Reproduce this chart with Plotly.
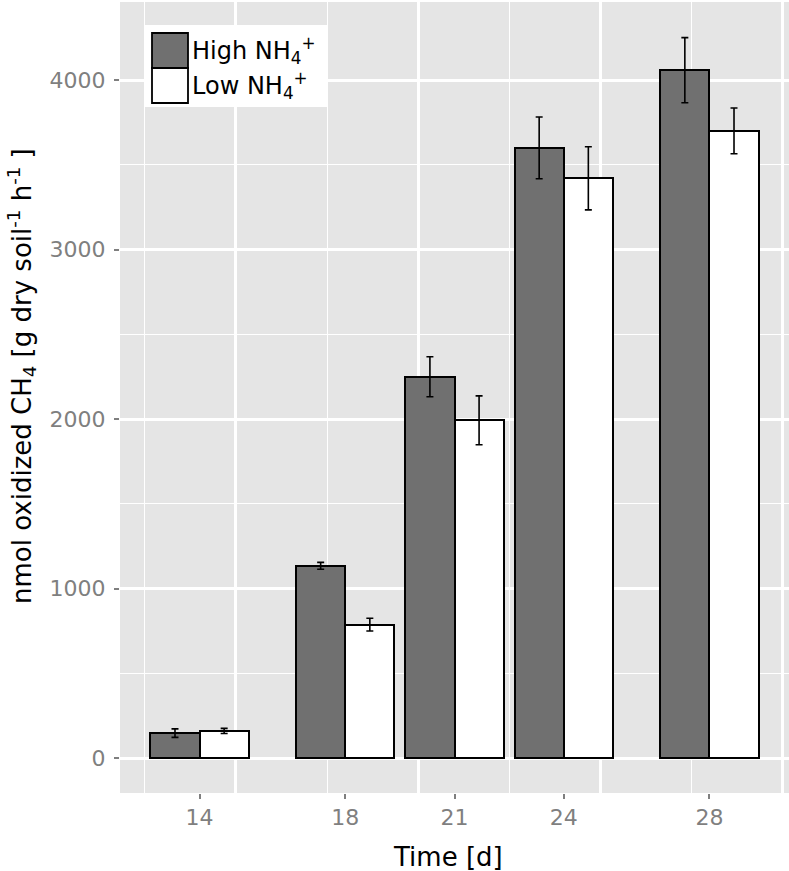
"""Methane oxidation under high vs. low ammonium, ggplot-like bar chart."""

import plotly.graph_objects as go

# data
TIME_DAYS = [14, 18, 21, 24, 28]
HIGH_NH4 = [148, 1135, 2250, 3600, 4058]
HIGH_NH4_ERR = [25, 20, 118, 182, 192]
LOW_NH4 = [161, 788, 1993, 3420, 3700]
LOW_NH4_ERR = [15, 38, 144, 186, 135]

BAR_WIDTH = 1.35
DARK = "#707070"
PANEL_BG = "#e5e5e5"
TICK_GREY = "#7f7f7f"
FONT = "DejaVu Sans, Verdana, sans-serif"

WIDTH, HEIGHT = 789, 871
MARGIN = dict(l=120, r=0, t=2, b=78, autoexpand=False)


def px_to_paper(px, py):
    """Convert window pixel coords to paper coords of the plot area."""
    w = WIDTH - MARGIN["l"] - MARGIN["r"]
    h = HEIGHT - MARGIN["t"] - MARGIN["b"]
    return (px - MARGIN["l"]) / w, 1 - (py - MARGIN["t"]) / h


def bar_trace(values, errors, color, offset, name):
    return go.Bar(
        x=TIME_DAYS,
        y=values,
        width=BAR_WIDTH,
        offset=offset,
        name=name,
        marker=dict(color=color, line=dict(color="black", width=2)),
        error_y=dict(
            type="data", array=errors, color="black", thickness=1.6, width=3.5
        ),
        showlegend=False,
    )


fig = go.Figure()
fig.add_trace(bar_trace(HIGH_NH4, HIGH_NH4_ERR, DARK, -BAR_WIDTH, "High NH4+"))
fig.add_trace(bar_trace(LOW_NH4, LOW_NH4_ERR, "white", 0, "Low NH4+"))
# carrier for the overlaid grid axis
fig.add_trace(
    go.Scatter(
        x=TIME_DAYS,
        y=[0] * len(TIME_DAYS),
        xaxis="x2",
        mode="markers",
        marker=dict(opacity=0),
        hoverinfo="skip",
        showlegend=False,
    )
)

x_range = [11.815, 30.185]
fig.update_layout(
    width=WIDTH,
    height=HEIGHT,
    margin=MARGIN,
    paper_bgcolor="white",
    plot_bgcolor=PANEL_BG,
    font=dict(family=FONT, color="black"),
    bargap=0,
    xaxis=dict(
        range=x_range,
        tickvals=TIME_DAYS,
        ticktext=[str(t) for t in TIME_DAYS],
        ticks="outside",
        ticklen=5,
        tickwidth=1.5,
        tickcolor=TICK_GREY,
        tickfont=dict(size=22, color=TICK_GREY),
        showgrid=False,
        zeroline=False,
        showline=False,
        automargin=False,
    ),
    xaxis2=dict(
        range=x_range,
        overlaying="x",
        anchor="y",
        side="bottom",
        tickvals=[15, 20, 25, 30],
        showticklabels=False,
        ticks="",
        showgrid=True,
        gridcolor="white",
        gridwidth=2.5,
        minor=dict(
            tickvals=[12.5, 17.5, 22.5, 27.5],
            showgrid=True,
            gridcolor="white",
            gridwidth=1.2,
            ticks="",
        ),
        zeroline=False,
        automargin=False,
    ),
    yaxis=dict(
        range=[-205, 4460],
        tickvals=[0, 1000, 2000, 3000, 4000],
        ticks="outside",
        ticklen=5,
        tickwidth=1.5,
        tickcolor=TICK_GREY,
        tickfont=dict(size=22, color=TICK_GREY),
        ticklabelstandoff=4,
        showgrid=True,
        gridcolor="white",
        gridwidth=2.5,
        minor=dict(
            tickvals=[500, 1500, 2500, 3500],
            showgrid=True,
            gridcolor="white",
            gridwidth=1.2,
            ticks="",
        ),
        zeroline=False,
        showline=False,
        automargin=False,
    ),
)

# axis titles as annotations so they sit where the reference has them
tx, ty = px_to_paper(448, 857)
fig.add_annotation(
    text="Time [d]", xref="paper", yref="paper", x=tx, y=ty,
    showarrow=False, xanchor="center", yanchor="middle",
    font=dict(size=26, color="black"),
)
yx, yy = px_to_paper(21, 376)
fig.add_annotation(
    text="nmol oxidized CH<sub>4</sub> [g dry soil<sup>-1</sup> h<sup>-1</sup> ]",
    xref="paper",
    yref="paper",
    x=yx,
    y=yy,
    textangle=-90,
    showarrow=False,
    font=dict(size=26, color="black"),
    xanchor="center",
    yanchor="middle",
)

# hand-drawn legend with large keys, as in ggplot
bx0, by0 = px_to_paper(145, 107)
bx1, by1 = px_to_paper(328, 25)
fig.add_shape(
    type="rect", xref="paper", yref="paper",
    x0=bx0, y0=by0, x1=bx1, y1=by1,
    fillcolor="white", line=dict(width=0),
)
legend_items = [
    ("High NH<sub>4</sub><sup>+</sup>", DARK, 33),
    ("Low NH<sub>4</sub><sup>+</sup>", "white", 68),
]
for label, color, top in legend_items:
    kx0, ky0 = px_to_paper(152, top + 35)
    kx1, ky1 = px_to_paper(188, top)
    fig.add_shape(
        type="rect", xref="paper", yref="paper",
        x0=kx0, y0=ky0, x1=kx1, y1=ky1,
        fillcolor=color, line=dict(color="black", width=1.8),
    )
    lx, ly = px_to_paper(190, top + 17)
    fig.add_annotation(
        text=label, xref="paper", yref="paper", x=lx, y=ly,
        xanchor="left", yanchor="middle", showarrow=False,
        font=dict(size=24, color="black"),
    )

# the browser's default 8px body margin would shift the figure
fig.write_html(
    "out.html",
    config={"displayModeBar": False},
    post_script="document.body.style.margin='0';document.body.style.overflow='hidden';",
)
